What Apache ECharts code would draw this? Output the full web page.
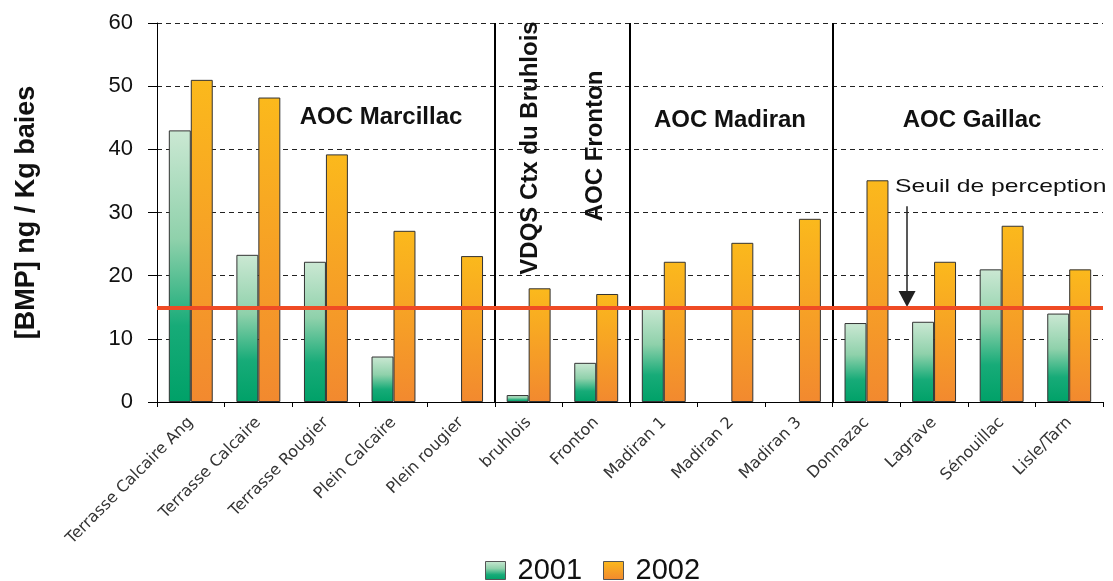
<!DOCTYPE html>
<html>
<head>
<meta charset="utf-8">
<script src="https://cdn.jsdelivr.net/npm/echarts@6/dist/echarts.min.js"></script>
<style>
html, body { margin: 0; padding: 0; background: #fff; }
#chart { width: 1113px; height: 581px; }
</style>
</head>
<body>
<div id="chart"></div>
<script>
// sites (x axis)
var categories = ["Terrasse Calcaire Ang", "Terrasse Calcaire", "Terrasse Rougier", "Plein Calcaire", "Plein rougier",
	"bruhlois", "Fronton", "Madiran 1", "Madiran 2", "Madiran 3", "Donnazac", "Lagrave", "Sénouillac", "Lisle/Tarn"];
// [IBMP] ng/kg, null = pas de mesure
var values2001 = [43, 23.3, 22.2, 7.2, null, 1.1, 6.2, 15.2, null, null, 12.5, 12.7, 21, 14];
var values2002 = [51, 48.2, 39.2, 27.1, 23.1, 18, 17.1, 22.2, 25.2, 29, 35.1, 22.2, 27.9, 21];
var seriesNames = ["2001", "2002"];
// seuil de perception
var threshold = 15;
// limites entre appellations (en nb de categories)
var separators = [5, 7, 10];
// fleche "seuil de perception"
var arrowX = 11.1;
var arrowFrom = 31;
var arrowTo = 16.3;

var font = '"Liberation Sans", Arial, sans-serif';
var chart = echarts.init(document.getElementById('chart'));

var greenFill = new echarts.graphic.LinearGradient(0, 0, 0, 1, [
	{ offset: 0, color: '#cbe8d3' },
	{ offset: 0.4, color: '#8fd1ab' },
	{ offset: 0.72, color: '#17ab78' },
	{ offset: 1, color: '#00a168' }
]);
var orangeFill = new echarts.graphic.LinearGradient(0, 0, 0, 1, [
	{ offset: 0, color: '#fbb91c' },
	{ offset: 1, color: '#f2892f' }
]);

var option = {
	animation: false,
	grid: { left: 157, right: 10, top: 23, bottom: 179, containLabel: false },
	legend: {
		data: seriesNames,
		icon: 'rect',
		left: 485,
		top: 556,
		padding: 0,
		itemWidth: 20,
		itemHeight: 18,
		itemGap: 21,
		selectedMode: false,
		itemStyle: { borderColor: '#555', borderWidth: 1 },
		textStyle: { fontFamily: font, fontSize: 29, color: '#111', padding: [0, 0, 0, 7] }
	},
	xAxis: [{
		type: 'category',
		data: categories,
		axisLine: { lineStyle: { color: '#000', width: 1 } },
		axisTick: { show: true, length: 5, interval: 0, lineStyle: { color: '#000' } },
		axisLabel: {
			interval: 0,
			rotate: 45,
			margin: 18,
			fontFamily: '"DejaVu Sans", sans-serif',
			fontSize: 16,
			color: '#333'
		},
		splitLine: { show: false }
	}, {
		// axe cache pour placer les separateurs et la fleche
		type: 'value',
		min: 0,
		max: categories.length,
		show: false
	}],
	yAxis: {
		type: 'value',
		min: 0,
		max: 60,
		interval: 10,
		name: '[BMP] ng / Kg baies',
		nameLocation: 'middle',
		nameRotate: 90,
		nameGap: 117,
		nameTextStyle: { fontFamily: font, fontSize: 27, fontWeight: 'bold', color: '#111' },
		axisLine: { show: true, lineStyle: { color: '#000', width: 1 } },
		axisTick: { show: true, length: 9, lineStyle: { color: '#000' } },
		axisLabel: { fontFamily: font, fontSize: 22, color: '#111', margin: 24 },
		splitLine: { show: true, lineStyle: { color: '#222', type: [5, 4], width: 1 } }
	},
	series: [{
		name: seriesNames[0],
		type: 'bar',
		data: values2001,
		barGap: '0%',
		barCategoryGap: '35%',
		itemStyle: { color: greenFill, borderColor: '#333', borderWidth: 1 }
	}, {
		name: seriesNames[1],
		type: 'bar',
		data: values2002,
		barGap: '0%',
		barCategoryGap: '35%',
		itemStyle: { color: orangeFill, borderColor: '#333', borderWidth: 1 },
		markLine: {
			silent: true,
			symbol: 'none',
			label: { show: false },
			lineStyle: { color: '#ef4b24', width: 4, type: 'solid' },
			data: [{ yAxis: threshold }],
			z: 10
		}
	}, {
		name: 'annotations',
		type: 'line',
		xAxisIndex: 1,
		data: [],
		markLine: {
			silent: true,
			symbol: 'none',
			label: { show: false },
			lineStyle: { color: '#000', width: 2, type: 'solid' },
			data: separators.map(function(v) {
				return { xAxis: v };
			}).concat([
				[{
					coord: [arrowX, arrowFrom],
					symbol: 'none',
					lineStyle: { color: '#222', width: 1.5 }
				}, {
					coord: [arrowX, arrowTo],
					symbol: 'triangle',
					symbolSize: [17, 16]
				}]
			])
		}
	}],
	graphic: [{
		type: 'text', x: 381, y: 117,
		style: { text: 'AOC Marcillac', font: 'bold 24px ' + font, fill: '#111', align: 'center', verticalAlign: 'middle' }
	}, {
		type: 'text', x: 530, y: 148, rotation: Math.PI / 2,
		style: { text: 'VDQS Ctx du Bruhlois', font: 'bold 24px ' + font, fill: '#111', align: 'center', verticalAlign: 'middle' }
	}, {
		type: 'text', x: 595, y: 146, rotation: Math.PI / 2,
		style: { text: 'AOC Fronton', font: 'bold 24px ' + font, fill: '#111', align: 'center', verticalAlign: 'middle' }
	}, {
		type: 'text', x: 730, y: 120,
		style: { text: 'AOC Madiran', font: 'bold 24px ' + font, fill: '#111', align: 'center', verticalAlign: 'middle' }
	}, {
		type: 'text', x: 972, y: 120,
		style: { text: 'AOC Gaillac', font: 'bold 24px ' + font, fill: '#111', align: 'center', verticalAlign: 'middle' }
	}, {
		type: 'text', x: 895, y: 187, scaleX: 1.3,
		style: { text: 'Seuil de perception', font: '19px ' + font, fill: '#111', align: 'left', verticalAlign: 'middle' }
	}]
};
chart.setOption(option);
</script>
</body>
</html>
